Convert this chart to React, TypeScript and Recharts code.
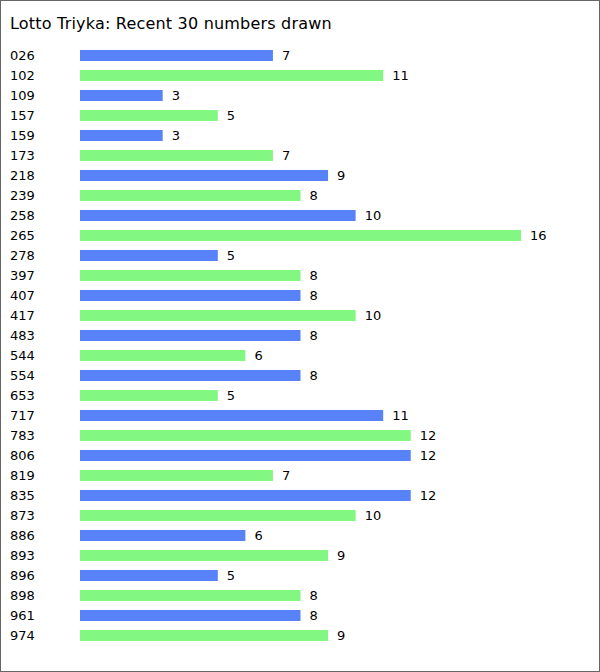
import React from 'react';
import { BarChart, Bar, XAxis, YAxis, Cell, LabelList } from 'recharts';

const BLUE = '#5882f8';
const GREEN = '#82f882';
const FONT = '"DejaVu Sans", Verdana, sans-serif';

const numbers = [
  '026', '102', '109', '157', '159', '173', '218', '239', '258', '265',
  '278', '397', '407', '417', '483', '544', '554', '653', '717', '783',
  '806', '819', '835', '873', '886', '893', '896', '898', '961', '974',
];
const counts = [7, 11, 3, 5, 3, 7, 9, 8, 10, 16, 5, 8, 8, 10, 8, 6, 8, 5, 11, 12, 12, 7, 12, 10, 6, 9, 5, 8, 8, 9];

const data = numbers.map((n, i) => ({ number: n, count: counts[i] }));

function LeftTick({ y, payload }: any) {
  return (
    <text x={10} y={y} dy={5} textAnchor="start" fontSize={13} fontFamily={FONT} fill="#000">
      {payload.value}
    </text>
  );
}

export default function App() {
  return (
    <div style={{ position: 'absolute', left: 0, top: 0, width: 600, height: 672, background: '#fff' }}>
      <BarChart
        width={600}
        height={672}
        data={data}
        layout="vertical"
        margin={{ top: 45, right: 79, bottom: 27, left: 0 }}
        barSize={11}
      >
        <XAxis type="number" domain={[0, 16]} hide />
        <YAxis
          type="category"
          dataKey="number"
          width={80}
          axisLine={false}
          tickLine={false}
          tick={<LeftTick />}
          interval={0}
        />
        <Bar dataKey="count" isAnimationActive={false}>
          {data.map((_, i) => (
            <Cell key={i} fill={i % 2 === 0 ? BLUE : GREEN} />
          ))}
          <LabelList
            dataKey="count"
            position="right"
            offset={9}
            fontSize={13}
            fontFamily={FONT}
            fill="#000"
          />
        </Bar>
      </BarChart>
      <div
        style={{
          position: 'absolute',
          left: 10,
          top: 14,
          fontFamily: FONT,
          fontSize: 16,
          letterSpacing: 0.2,
          color: '#000',
          whiteSpace: 'nowrap',
        }}
      >
        Lotto Triyka: Recent 30 numbers drawn
      </div>
      <div
        style={{
          position: 'absolute',
          inset: 0,
          border: '1px solid #666',
          pointerEvents: 'none',
        }}
      />
    </div>
  );
}
